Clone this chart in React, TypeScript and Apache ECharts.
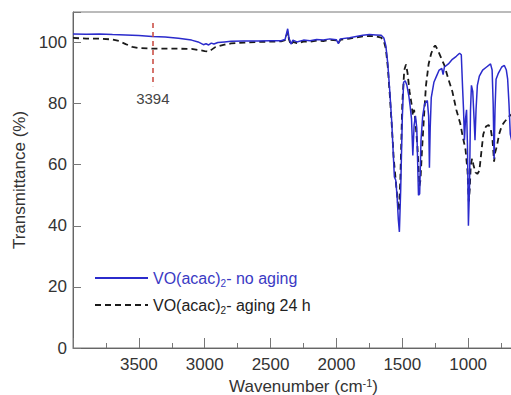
import React, { useEffect, useRef } from "react";
import * as echarts from "echarts";

// ---- data ----
const seriesNames = ["VO(acac)₂- no aging", "VO(acac)₂- aging 24 h"];

const noAgingWn = [
  4000, 3900, 3800, 3700, 3600, 3500, 3400, 3300, 3200, 3100, 3050, 3010, 2990, 2970, 2950, 2930, 2900, 2850, 2800, 2700,
  2600, 2500, 2420, 2390, 2370, 2360, 2345, 2330, 2300, 2250, 2200, 2150, 2100, 2050, 2000, 1985, 1970, 1900, 1850, 1800,
  1750, 1700, 1660, 1640, 1625, 1610, 1595, 1580, 1568, 1560, 1550, 1540, 1530, 1522, 1512, 1500, 1490, 1478, 1465, 1450,
  1440, 1430, 1420, 1410, 1400, 1390, 1377, 1368, 1358, 1345, 1330, 1310, 1300, 1294, 1288, 1280, 1260, 1240, 1220, 1200,
  1190, 1180, 1150, 1120, 1090, 1065, 1052, 1042, 1035, 1028, 1020, 1012, 1005, 998, 990, 982, 975, 965, 955, 948,
  940, 930, 915, 890, 860, 830, 818, 810, 803, 796, 788, 770, 745, 725, 710, 700, 690, 680, 670, 660,
];
const noAgingT = [
  102.8, 102.7, 102.8, 102.6, 102.5, 102.3, 102.0, 101.8, 101.4, 100.8, 100.2, 99.3, 99.6, 99.2, 99.8, 99.5, 100.0, 100.2, 100.4, 100.5,
  100.5, 100.6, 100.6, 101.0, 104.5, 101.5, 99.5, 100.8, 100.2, 100.8, 100.6, 101.0, 100.8, 101.2, 100.9, 99.6, 101.2, 101.6, 102.0, 102.4,
  102.6, 102.5, 102.4, 101.5, 99, 93, 84, 74, 63, 56, 55, 50, 42, 38, 52, 75, 87, 87.5, 86.0, 82.5,
  79, 75, 63, 73, 76, 72, 50, 50.5, 68, 76, 80, 81, 76, 59, 72, 82, 87, 89, 91, 91.5,
  89.5, 92, 93, 94.5, 95.5, 96.5, 96.0, 85, 78, 68, 75, 78, 66, 40, 52, 78, 86, 84, 75, 68,
  78, 86, 89, 91, 92, 93, 91, 80, 62, 78, 88, 90, 92, 92.5, 91, 88, 80, 70, 68, 72,
];

const agingWn = [
  4000, 3900, 3800, 3700, 3650, 3600, 3550, 3500, 3400, 3300, 3200, 3100, 3050, 3000, 2970, 2950, 2920, 2850, 2800, 2700,
  2600, 2500, 2420, 2390, 2370, 2360, 2345, 2330, 2300, 2250, 2200, 2150, 2100, 2050, 2000, 1985, 1970, 1900, 1850, 1800,
  1750, 1700, 1660, 1640, 1625, 1610, 1595, 1580, 1565, 1550, 1535, 1525, 1515, 1500, 1485, 1472, 1460, 1445, 1430, 1420,
  1410, 1400, 1385, 1370, 1362, 1350, 1335, 1320, 1300, 1280, 1260, 1250, 1235, 1210, 1180, 1150, 1120, 1090, 1060, 1040,
  1020, 1005, 995, 988, 980, 970, 960, 945, 930, 915, 900, 885, 865, 845, 830, 815, 803, 795, 782, 765,
  745, 725, 705, 685, 670, 660,
];
const agingT = [
  101.5, 101.3, 101.3, 101.0, 100.5, 99.5, 98.6, 98.2, 98.0, 98.0, 98.0, 97.9, 97.6, 97.2, 97.0, 97.6, 98.5, 99.3, 99.7, 100.0,
  100.2, 100.3, 100.4, 100.8, 103.5, 101, 99.2, 100.2, 99.8, 100.3, 100.3, 100.6, 100.5, 100.9, 100.7, 99.8, 100.9, 101.3, 101.7, 102.0,
  102.2, 102.0, 101.6, 100.5, 98, 92, 83, 73, 62, 55, 48, 45, 55, 80, 91, 92.8, 90, 84, 80, 76,
  78, 74, 66, 53, 55, 65, 76, 86, 93, 96.5, 98.5, 99, 98, 95.5, 92.5, 88, 84, 78, 73.5, 69,
  65, 58, 48, 52, 60, 62, 60, 57.5, 57, 58, 64, 70, 72.5, 73, 72, 68, 61, 64, 66, 70,
  72.7, 74, 75, 76, 76.5, 77,
];

const markWavenumber = [3394];
const markRange = [106.4, 85.7];

const xRange = [500, 4000];
const yRange = [0, 110];

const zip = (xs: number[], ys: number[]) => xs.map((x, i) => [x, ys[i]]);

const FONT = "'Liberation Sans', Arial, sans-serif";
const TXT = "#333";

export default function App() {
  const ref = useRef<HTMLDivElement>(null);
  useEffect(() => {
    if (!ref.current) return;
    const chart = echarts.init(ref.current, null, { renderer: "svg" });
    chart.setOption({
      animation: false,
      backgroundColor: "#fff",
      textStyle: { fontFamily: FONT },
      grid: {
        left: 73,
        top: 12,
        width: 461,
        height: 336,
        containLabel: false,
        outerBoundsMode: "none",
        show: true,
        borderColor: "#777",
        borderWidth: 1,
        backgroundColor: "transparent",
      },
      legend: {
        orient: "vertical",
        left: 89,
        top: 265,
        itemWidth: 53,
        itemHeight: 14,
        itemGap: 9,
        itemStyle: { opacity: 0 },
        data: [{ name: seriesNames[0] }, { name: seriesNames[1] }],
        formatter: (name: string) => {
          const parts = name.split("₂");
          const k = name === seriesNames[0] ? ["a", "s"] : ["b", "t"];
          return `{${k[0]}|${parts[0]}}{${k[1]}|2}{${k[0]}|${parts[1]}}`;
        },
        textStyle: {
          fontFamily: FONT,
          fontSize: 16,
          rich: {
            a: { fontSize: 16, lineHeight: 20, color: "#3a3ac4", fontFamily: FONT },
            s: { fontSize: 10, lineHeight: 10, verticalAlign: "bottom", color: "#3a3ac4", fontFamily: FONT },
            b: { fontSize: 16, lineHeight: 20, color: "#222", fontFamily: FONT },
            t: { fontSize: 10, lineHeight: 10, verticalAlign: "bottom", color: "#222", fontFamily: FONT },
          },
        },
      },
      xAxis: {
        type: "value",
        inverse: true,
        min: xRange[0],
        max: xRange[1],
        interval: 500,
        name: "{a|Wavenumber (cm}{sup|-1}{a|)}",
        nameLocation: "middle",
        nameGap: 25,
        nameTextStyle: {
          color: TXT,
          rich: {
            a: { fontSize: 17, lineHeight: 18, color: TXT, fontFamily: FONT },
            sup: { fontSize: 11, lineHeight: 11, verticalAlign: "top", color: TXT, fontFamily: FONT },
          },
        },
        axisLine: { show: true, lineStyle: { color: "#666", width: 1 } },
        axisTick: { show: true, inside: true, length: 10, lineStyle: { color: "#777" } },
        minorTick: { show: true, splitNumber: 2, length: 5, lineStyle: { color: "#777" } },
        splitLine: { show: false },
        minorSplitLine: { show: false },
        axisLabel: {
          color: TXT,
          fontSize: 17,
          margin: 8,
          formatter: (v: number) => (v === xRange[1] || v === xRange[0] ? "" : String(v)),
        },
      },
      yAxis: {
        type: "value",
        min: yRange[0],
        max: yRange[1],
        interval: 20,
        name: "Transmittance (%)",
        nameLocation: "middle",
        nameGap: 45,
        nameTextStyle: { color: TXT, fontSize: 17, fontFamily: FONT },
        axisLine: { show: true, lineStyle: { color: "#666", width: 1 } },
        axisTick: { show: true, inside: true, length: 8, lineStyle: { color: "#777" } },
        splitLine: { show: false },
        axisLabel: {
          color: TXT,
          fontSize: 17,
          margin: 6,
          formatter: (v: number) => (v > 100 ? "" : String(v)),
        },
      },
      series: [
        {
          name: seriesNames[0],
          type: "line",
          data: zip(noAgingWn, noAgingT),
          symbol: "none",
          lineStyle: { color: "#2b2bcc", width: 1.5 },
          itemStyle: { color: "#2b2bcc" },
          z: 3,
        },
        {
          name: seriesNames[1],
          type: "line",
          data: zip(agingWn, agingT),
          symbol: "none",
          lineStyle: { color: "#1a1a1a", width: 1.8, type: [6, 4] },
          itemStyle: { color: "#1a1a1a" },
          z: 2,
          markLine: {
            silent: true,
            symbol: ["none", "none"],
            lineStyle: { color: "#c8463c", type: [5, 4], width: 1.5 },
            label: {
              show: true,
              position: "end",
              formatter: String(markWavenumber[0]),
              color: "#444",
              fontSize: 15,
              distance: 5,
              fontFamily: FONT,
            },
            data: [
              [
                { coord: [markWavenumber[0], markRange[0]] },
                { coord: [markWavenumber[0], markRange[1]] },
              ],
            ],
          },
        },
      ],
    });
    return () => chart.dispose();
  }, []);
  return <div ref={ref} style={{ position: "absolute", left: 0, top: 0, width: 511, height: 395 }} />;
}
